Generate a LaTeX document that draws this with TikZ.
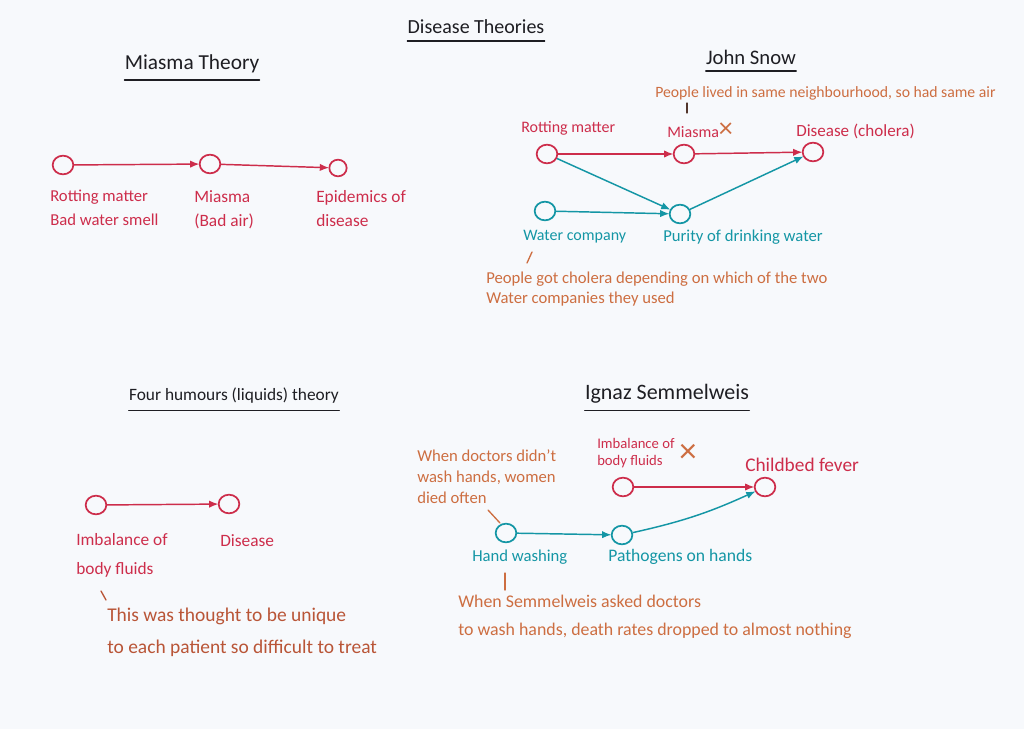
\documentclass[tikz,border=0pt]{standalone}
\usepackage{fontspec}
\setmainfont{Carlito}
\usetikzlibrary{arrows.meta,shapes.geometric}
\definecolor{bgc}{RGB}{247,249,252}
\definecolor{pen}{RGB}{30,30,35}
\definecolor{penred}{RGB}{205,45,75}
\definecolor{penteal}{RGB}{20,150,165}
\definecolor{penorange}{RGB}{205,110,65}
\definecolor{penbrown}{RGB}{185,85,55}
\begin{document}
\begin{tikzpicture}[x=0.75pt,y=-0.75pt,
  dot/.style={ellipse,draw,line width=1.3pt,minimum width=15.5pt,minimum height=14pt,inner sep=0pt,fill=bgc},
  edge/.style={line width=1.1pt,-{Latex[length=7pt,width=5.5pt]},shorten >=-0.5pt},
  title/.style={text=pen,inner sep=0pt,font=\fontsize{#1}{#1}\selectfont},
  ul/.style={draw=pen,line width=1.1pt,line cap=round},
  lab/.style 2 args={inner sep=0pt,align=left,font=\fontsize{#1}{#2}\selectfont},
  tick/.style={line width=1pt,line cap=round}
]
\useasboundingbox[fill=bgc] (0,0) rectangle (1024,729);

% ---------- titles ----------
\node[title=15] (tMain) at (476,27) {Disease Theories};
\node[title=16] (tMiasma) at (192,64) {Miasma Theory};
\node[title=15.5] (tSnow) at (751,57) {John Snow};
\node[title=13] (tHum) at (234,396) {Four humours (liquids) theory};
\node[title=16.5] (tSem) at (667,394) {Ignaz Semmelweis};
\foreach \t in {tMain,tMiasma,tSnow,tHum,tSem}
  \draw[ul] ([yshift=-5pt]\t.south west) -- ([yshift=-5pt]\t.south east);

% ---------- Miasma theory ----------
\begin{scope}[every node/.append style={text=penred}]
\node[dot,draw=penred] (m1) at (63,165) {};
\node[dot,draw=penred] (m2) at (210,164) {};
\node[dot,draw=penred,minimum width=13pt,minimum height=12.5pt] (m3) at (338,168) {};
\node[lab={12.5}{18},anchor=north west] (lm1) at (50,190) {Rotting matter\\Bad water smell};
\node[lab={13}{18},anchor=north west] (lm2) at (194,190) {Miasma\\(Bad air)};
\node[lab={13}{18},anchor=north west] (lm3) at (316,190) {Epidemics of\\disease};
\end{scope}
\draw[edge,penred] (m1) -- (m2);
\draw[edge,penred] (m2) -- (m3);

% ---------- John Snow ----------
\node[lab={11.8}{14},text=penorange,anchor=west] (a1) at (655,93) {People lived in same neighbourhood, so had same air};
\node[dot,draw=penred] (s1) at (547,154) {};
\node[dot,draw=penred] (s2) at (684,154) {};
\node[dot,draw=penred] (s3) at (813,152) {};
\node[dot,draw=penteal] (s4) at (545,211) {};
\node[dot,draw=penteal] (s5) at (680,214) {};
\node[lab={12}{14},text=penred,anchor=west] (ls1) at (521,128) {Rotting matter};
\node[lab={12}{14},text=penred,anchor=west] (ls2) at (667,130) {Miasma{\color{penorange}\fontsize{21}{16}\selectfont ×}};
\node[lab={12.8}{14},text=penred,anchor=west] (ls3) at (796,131) {Disease (cholera)};
\node[lab={12}{14},text=penteal,anchor=west] (ls4) at (523,237) {Water company};
\node[lab={12.5}{14},text=penteal,anchor=west] (ls5) at (663,237) {Purity of drinking water};
\node[lab={12.5}{15},text=penorange,anchor=north west] (a2) at (486,272) {People got cholera depending on which of the two\\Water companies they used};
\draw[edge,penred] (s1) -- (s2);
\draw[edge,penred] (s2) -- (s3);
\draw[edge,penteal] (s1) -- (s5);
\draw[edge,penteal] (s4) -- (s5);
\draw[edge,penteal] (s5) -- (s3);
\coordinate (k1a) at (687,103);
\coordinate (k1b) at (687,113);
\draw[tick,line width=0.8pt,pen!70!penorange] (k1a) -- (k1b);
\coordinate (k2a) at (532,252);
\coordinate (k2b) at (527,263);
\draw[tick,penorange] (k2a) -- (k2b);

% ---------- Four humours ----------
\node[dot,draw=penred] (h1) at (96,505) {};
\node[dot,draw=penred] (h2) at (229,504) {};
\node[lab={13}{22},text=penred,anchor=north west] (lh1) at (76,533) {Imbalance of\\body fluids};
\node[lab={13}{16},text=penred,anchor=west] (lh2) at (220,541) {Disease};
\node[lab={14.6}{24},text=penbrown,anchor=north west] (a3) at (107,608) {This was thought to be unique\\to each patient so difficult to treat};
\draw[edge,penred] (h1) -- (h2);
\coordinate (k3a) at (101,591);
\coordinate (k3b) at (106,600);
\draw[tick,penbrown] (k3a) -- (k3b);

% ---------- Ignaz Semmelweis ----------
\node[dot,draw=penred] (i1) at (623,487) {};
\node[dot,draw=penred] (i2) at (765,487) {};
\node[dot,draw=penteal] (i3) at (506,533) {};
\node[dot,draw=penteal] (i4) at (622,535) {};
\node[lab={11}{13},text=penred,anchor=north west] (li1) at (597,438) {Imbalance of\\body fluids};
\node[lab={26}{26},text=penorange,anchor=center] (lx) at (688,453) {×};
\node[lab={14.5}{14},text=penred,anchor=west] (li2) at (745,465) {Childbed fever};
\node[lab={12.5}{16},text=penorange,anchor=north west] (a5) at (417,449) {When doctors didn't\\wash hands, women\\died often};
\node[lab={12.5}{14},text=penteal,anchor=west] (li3) at (472,557) {Hand washing};
\node[lab={13.2}{14},text=penteal,anchor=west] (li4) at (608,557) {Pathogens on hands};
\node[lab={13.4}{21},text=penorange,anchor=north west] (a4) at (458,595) {When Semmelweis asked doctors\\to wash hands, death rates dropped to almost nothing};
\draw[edge,penred] (i1) -- (i2);
\draw[edge,penteal] (i3) -- (i4);
\draw[edge,penteal] (i4) to[bend right=6] (i2);
\coordinate (k4a) at (488,510);
\coordinate (k4b) at (500,523);
\draw[tick,penorange] (k4a) -- (k4b);
\coordinate (k5a) at (505,573);
\coordinate (k5b) at (505,590);
\draw[tick,penorange] (k5a) -- (k5b);
\end{tikzpicture}
\end{document}
